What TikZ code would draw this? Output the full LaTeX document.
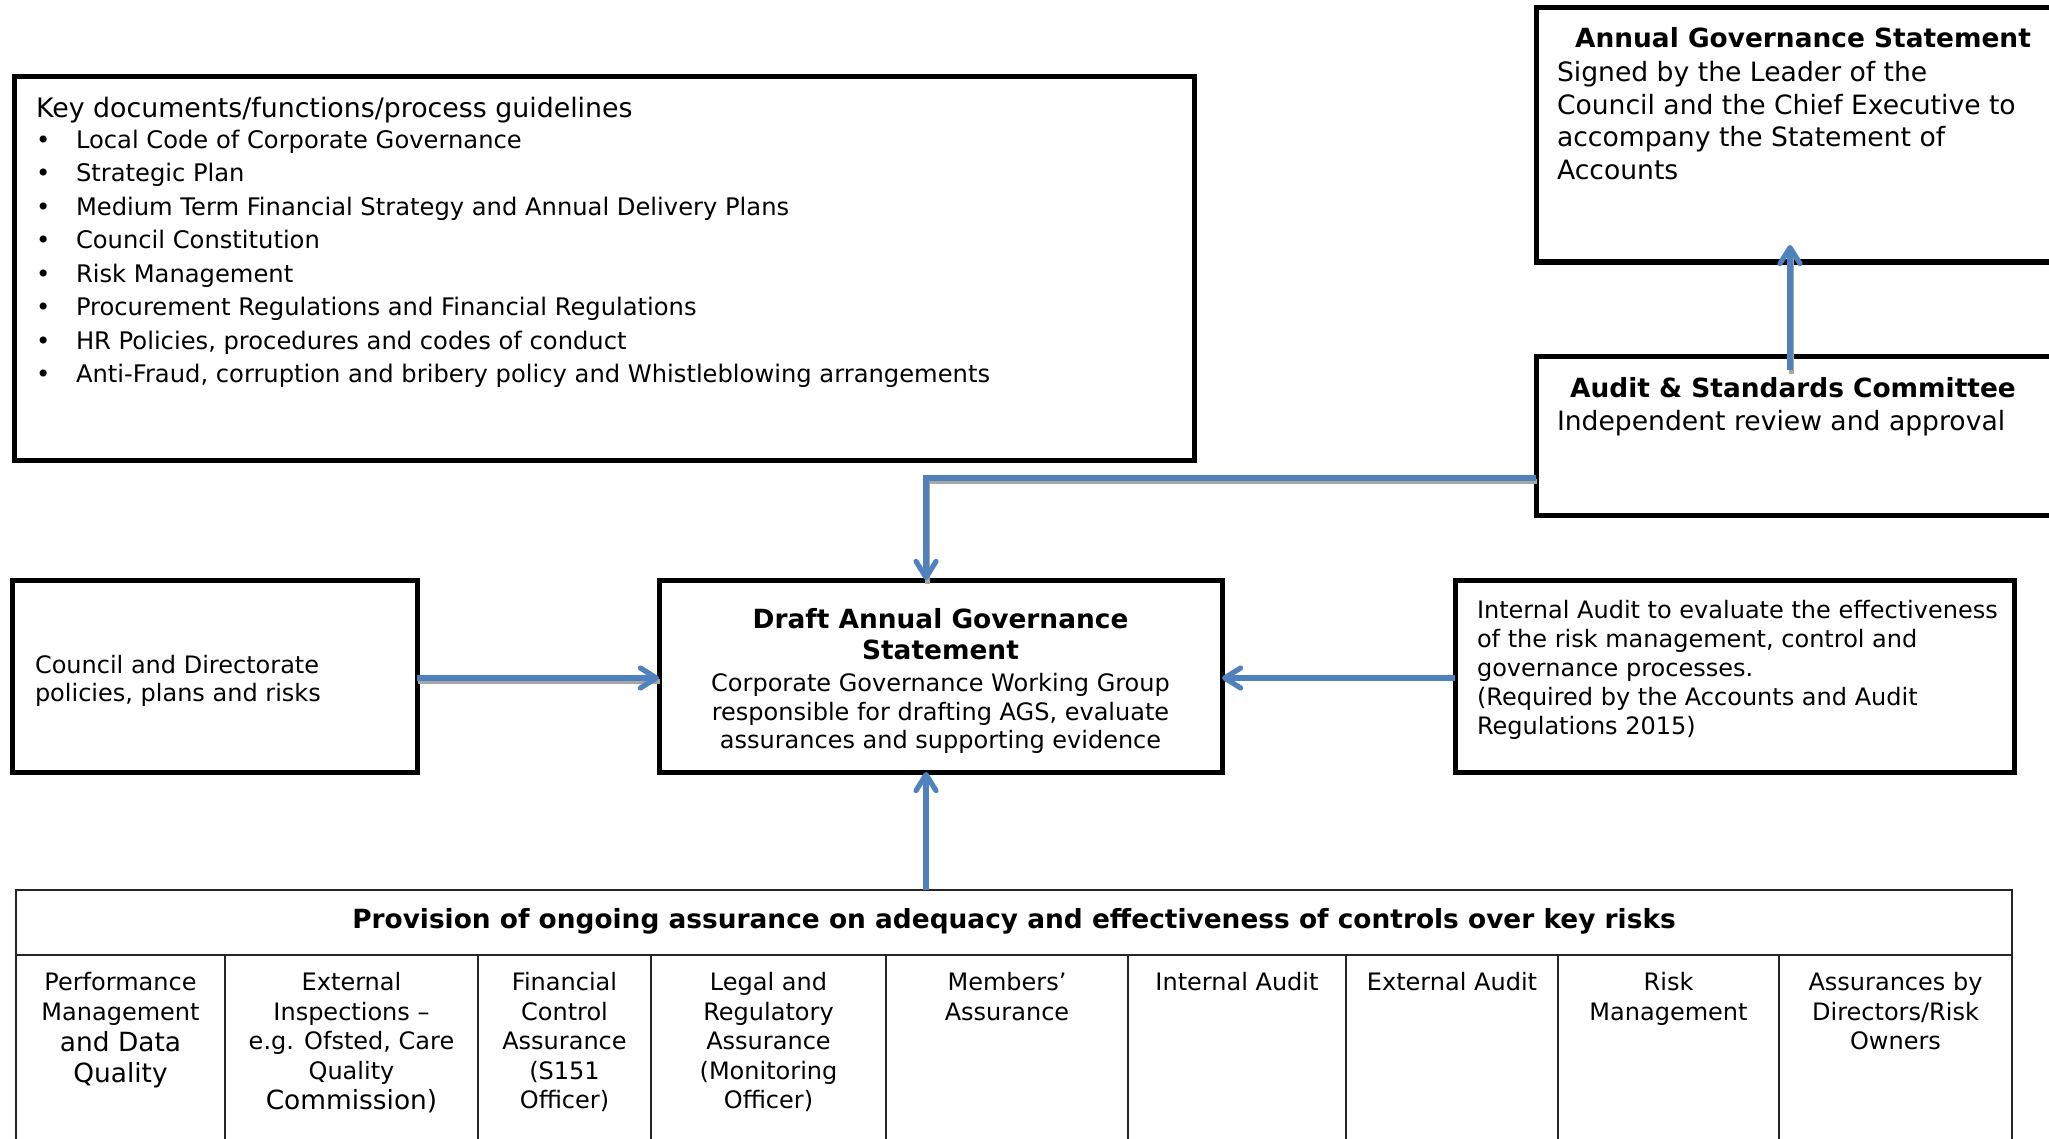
\documentclass[tikz,border=0pt]{standalone}
\usepackage{fontspec}
\setmainfont{DejaVu Sans}
\usetikzlibrary{arrows.meta,calc}
\definecolor{arrblue}{HTML}{4F81BD}
\newcommand\kbul{\makebox[20pt][l]{•}}
\begin{document}
\begin{tikzpicture}[x=0.5pt,y=-0.5pt,
  box/.style={draw=black, line width=2.5pt, rectangle, inner sep=0pt, outer sep=0pt},
  tbox/.style={inner sep=0pt, outer sep=0pt},
  tline/.style={draw=black!85, line width=1pt},
  arr/.style={draw=arrblue, line width=2.6pt, -{Straight Barb[length=8pt,width=10pt,round]}},
  shd/.style={preaction={draw=black!35, line width=2.6pt, arrows=-, transform canvas={shift={(0.6pt,-1.9pt)}}}},
  cell/.style={tbox, anchor=north, align=center, font=\fontsize{12}{14.75}\selectfont}]
\fill[white] (0,0) rectangle (2049,1139);
\useasboundingbox (0,0) rectangle (2049,1139);

% boxes
\node[box, minimum width=272pt, minimum height=127pt] (ags) at (1808,135) {};
\node[box, minimum width=272pt, minimum height=79.5pt] (audit) at (1808,435.5) {};
\node[box, minimum width=590pt, minimum height=191.5pt] (kd) at (604,268.5) {};
\node[box, minimum width=202.5pt, minimum height=96pt] (council) at (214.5,676) {};
\node[box, minimum width=281.5pt, minimum height=96pt] (draft) at (940.5,676) {};
\node[box, minimum width=279.5pt, minimum height=96pt] (internal) at (1734.5,676) {};
\node[draw=black!85, line width=1pt, inner sep=0pt, outer sep=0pt, minimum width=998pt, minimum height=140pt] (tab) at (1014,1030) {};

% table rules
\coordinate (hr) at (0,955);
\draw[tline] (tab.west |- hr) -- (tab.east |- hr);
\foreach \x in {225,478,651,886,1128,1346,1558,1779}
  \draw[tline] (\x,955) -- (\x,1170);

% texts
\node[tbox, anchor=base, font=\bfseries\fontsize{13.2}{15.8}\selectfont] (agst) at (1803,48) {Annual Governance Statement};
\node[tbox, anchor=north west, align=left, font=\fontsize{13.3}{16.25}\selectfont] (agsb) at (1557,61.4) {Signed by the Leader of the\\Council and the Chief Executive to\\accompany the Statement of\\Accounts};
\node[tbox, anchor=base, font=\bfseries\fontsize{13.2}{15.8}\selectfont] (audt) at (1793,397.6) {Audit \& Standards Committee};
\node[tbox, anchor=base west, font=\fontsize{13.3}{16.25}\selectfont] (audb) at (1557,430.6) {Independent review and approval};

\node[tbox, anchor=base west, font=\fontsize{13.4}{16}\selectfont] (kdh) at (36,117.5) {Key documents/functions/process guidelines};
\node[tbox, anchor=north west, align=left, font=\fontsize{12.1}{16.75}\selectfont] (kdl) at (36,130) {\kbul Local Code of Corporate Governance\\\kbul Strategic Plan\\\kbul Medium Term Financial Strategy and Annual Delivery Plans\\\kbul Council Constitution\\\kbul Risk Management\\\kbul Procurement Regulations and Financial Regulations\\\kbul HR Policies, procedures and codes of conduct\\\kbul Anti-Fraud, corruption and bribery policy and Whistleblowing arrangements};

\node[tbox, anchor=north west, align=left, font=\fontsize{12}{13.9}\selectfont] (cout) at (35,655) {Council and Directorate\\policies, plans and risks};
\node[tbox, anchor=north, align=center, font=\bfseries\fontsize{13.2}{15.8}\selectfont] (drt) at (940.5,608.2) {Draft Annual Governance\\Statement};
\node[tbox, anchor=north, align=center, font=\fontsize{12}{14.4}\selectfont] (drb) at (940.5,673) {Corporate Governance Working Group\\responsible for drafting AGS, evaluate\\assurances and supporting evidence};
\node[tbox, anchor=north west, align=left, font=\fontsize{12}{14.4}\selectfont] (intt) at (1477,600.6) {Internal Audit to evaluate the effectiveness\\of the risk management, control and\\governance processes.\\(Required by the Accounts and Audit\\Regulations 2015)};

\node[tbox, anchor=base, font=\bfseries\fontsize{13.2}{15.8}\selectfont] (tabh) at (1014,928.2) {Provision of ongoing assurance on adequacy and effectiveness of controls over key risks};
\node[cell] (c1) at (120.5,972.3) {Performance\\Management};
\node[cell, font=\fontsize{13.2}{15.4}\selectfont] (c1b) at (120.5,1031.9) {and Data\\Quality};
\node[cell] (c2) at (351.5,972.3) {External\\Inspections –\\e.g. Ofsted, Care\\Quality};
\node[tbox, anchor=base, font=\fontsize{13.2}{15.2}\selectfont] (c2b) at (351.5,1109) {Commission)};
\node[cell] (c3) at (564.5,972.3) {Financial\\Control\\Assurance\\(S151\\Officer)};
\node[cell] (c4) at (768.5,972.3) {Legal and\\Regulatory\\Assurance\\(Monitoring\\Officer)};
\node[cell] (c5) at (1007,972.3) {Members’\\Assurance};
\node[cell] (c6) at (1237,972.3) {Internal Audit};
\node[cell] (c7) at (1452,972.3) {External Audit};
\node[cell] (c8) at (1668.5,972.3) {Risk\\Management};
\node[cell] (c9) at (1895.5,972.3) {Assurances by\\Directors/Risk\\Owners};

% connectors
\coordinate (ax) at (926,0);
\coordinate (ay) at (0,478);
\coordinate (hy) at (0,678);
\coordinate (bx) at (1790,0);
\draw[arr,shd] (audit.west |- ay) -| (draft.north -| ax);
\draw[arr,shd] (council.east |- hy) -- (draft.west |- hy);
\draw[arr] (internal.west |- hy) -- (draft.east |- hy);
\draw[arr] (tab.north -| ax) -- (draft.south -| ax);
\draw[arr,shd] ($(audit.north -| bx)+(0,14)$) -- ($(ags.south -| bx)+(0,-17)$);
\end{tikzpicture}
\end{document}
